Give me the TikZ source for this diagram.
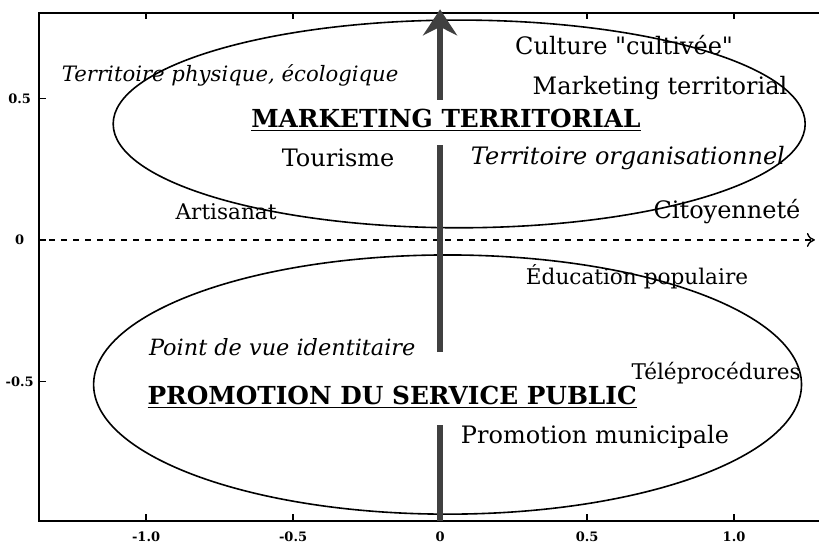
\documentclass[tikz,border=0pt]{standalone}
\usepackage{fontspec}
\setmainfont{DejaVu Serif}[Ligatures=TeXOff]
\usetikzlibrary{arrows.meta}

\begin{document}
\begin{tikzpicture}[x=147pt, y=141.5pt,
  lbl/.style={font=\fontsize{12}{14}\selectfont, inner sep=1pt},
  slbl/.style={font=\fontsize{10.8}{13}\selectfont, inner sep=1pt},
  ilbl/.style={font=\fontsize{12}{14}\selectfont\itshape, inner sep=1pt},
  ttl/.style={font=\fontsize{12.4}{15}\selectfont\bfseries, inner sep=1pt},
  tck/.style={font=\fontsize{6.5}{7}\selectfont\bfseries, inner sep=0pt},
  zone/.style={line width=0.8pt}]
\useasboundingbox (-1.497,-1.071) rectangle (1.289,0.848);
% cadre et graduations
\draw[line width=1pt] (1.289,0.802) -- (-1.364,0.802) -- (-1.364,-0.993) -- (1.289,-0.993);
\foreach \x/\t [count=\i] in {-1.0/-1.0,-0.5/-0.5,0.5/0.5,1.0/1.0} {
  \draw[line width=0.6pt] (\x,-0.993) -- (\x,-0.97);
  \draw[line width=0.6pt] (\x,0.802) -- (\x,0.78);
  \node[tck] (xt\i) at (\x,-1.05) {\t};
}
\node[tck] (xt0) at (0,-1.05) {0};
\foreach \y/\t [count=\i] in {0.5/0.5,0/0,-0.5/-0.5} {
  \draw[line width=0.6pt] (-1.364,\y) -- (-1.34,\y);
  \node[tck] (yt\i) at (-1.43,\y) {\t};
}
% axe horizontal
\coordinate (h0) at (-1.33,0);
\coordinate (h1) at (1.275,0);
\draw[dashed, line width=0.7pt, -{To[length=4pt,width=7pt]}] (h0) -- (h1);
% les deux zones
\draw[zone] (0.065,0.41) ellipse [x radius=1.177, y radius=0.367];
\draw[zone] (0.0255,-0.511) ellipse [x radius=1.204, y radius=0.458];
% axe vertical
\coordinate (v0) at (0,-0.993);
\coordinate (v1) at (0,-0.654);
\coordinate (v2) at (0,-0.396);
\coordinate (v3) at (0,0.336);
\coordinate (v4) at (0,0.495);
\coordinate (v5) at (0,0.815);
\draw[line width=3pt, black!75] (v0) -- (v1);
\draw[line width=3pt, black!75] (v2) -- (v3);
\draw[line width=3pt, black!75, -{Stealth[length=13pt,width=17pt]}] (v4) -- (v5);
% textes
\node[ilbl, font=\fontsize{10.6}{13}\selectfont\itshape] (phys) at (-0.714,0.583) {Territoire physique, écologique};
\node[lbl] (cult) at (0.626,0.689) {Culture "cultivée"};
\node[lbl] (mkt) at (0.748,0.537) {Marketing territorial};
\node[ttl] (mktT) at (0.02,0.424) {\underline{MARKETING TERRITORIAL}};
\node[lbl] (tour) at (-0.347,0.29) {Tourisme};
\node[ilbl] (orga) at (0.639,0.29) {Territoire organisationnel};
\node[slbl] (arti) at (-0.728,0.099) {Artisanat};
\node[lbl] (cito) at (0.976,0.099) {Citoyenneté};
\node[slbl] (educ) at (0.67,-0.131) {Éducation populaire};
\node[ilbl, font=\fontsize{11.2}{13}\selectfont\itshape] (iden) at (-0.537,-0.378) {Point de vue identitaire};
\node[slbl] (tele) at (0.939,-0.47) {Téléprocédures};
\node[ttl] (promT) at (-0.163,-0.555) {\underline{PROMOTION DU SERVICE PUBLIC}};
\node[lbl] (muni) at (0.527,-0.696) {Promotion municipale};
\end{tikzpicture}
\end{document}
